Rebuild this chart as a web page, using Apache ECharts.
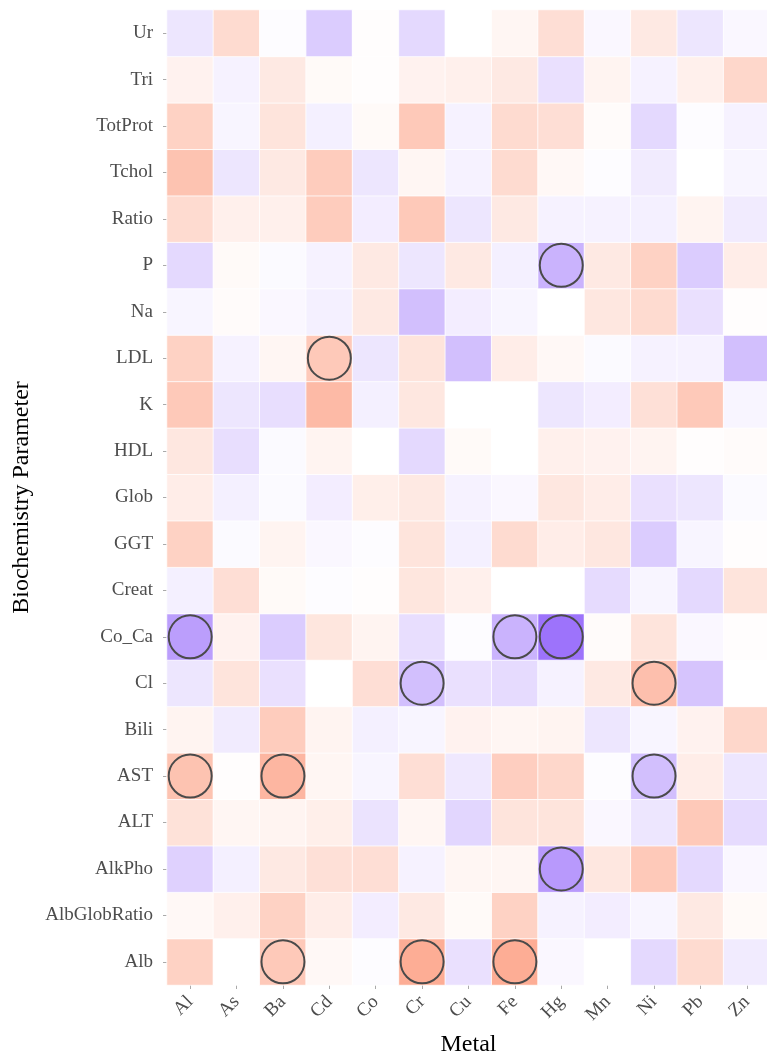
<!DOCTYPE html>
<html>
<head>
<meta charset="utf-8">
<script src="https://cdn.jsdelivr.net/npm/echarts@6/dist/echarts.min.js"></script>
<style>
  html, body { margin: 0; padding: 0; background: #fff; }
  #chart { width: 767px; height: 1057px; }
</style>
</head>
<body>
<div id="chart"></div>
<script>
  // metals on x, parameters on y (bottom -> top)
  const metals = ['Al', 'As', 'Ba', 'Cd', 'Co', 'Cr', 'Cu', 'Fe', 'Hg', 'Mn', 'Ni', 'Pb', 'Zn'];
  const params = ['Alb', 'AlbGlobRatio', 'AlkPho', 'ALT', 'AST', 'Bili', 'Cl', 'Co_Ca', 'Creat', 'GGT',
    'Glob', 'HDL', 'K', 'LDL', 'Na', 'P', 'Ratio', 'Tchol', 'TotProt', 'Tri', 'Ur'];

  // one row per parameter, same order as metals
  const Alb          = [0.25, 0.00, 0.30, 0.04, -0.01, 0.45, -0.12, 0.45, -0.03, 0.00, -0.15, 0.20, -0.08];
  const AlbGlobRatio = [0.04, 0.08, 0.25, 0.10, -0.07, 0.12, 0.03, 0.25, -0.05, -0.07, -0.04, 0.12, 0.03];
  const AlkPho       = [-0.18, -0.06, 0.12, 0.17, 0.18, -0.05, 0.05, 0.05, -0.40, 0.13, 0.30, -0.15, -0.03];
  const ALT          = [0.16, 0.05, 0.06, 0.09, -0.11, 0.05, -0.16, 0.15, 0.15, -0.03, -0.10, 0.30, -0.14];
  const AST          = [0.33, 0.01, 0.40, 0.05, -0.04, 0.18, -0.09, 0.27, 0.22, -0.01, -0.25, 0.10, -0.10];
  const Bili         = [0.06, -0.08, 0.28, 0.06, -0.06, -0.04, 0.07, 0.05, 0.06, -0.10, -0.04, 0.07, 0.22];
  const Cl           = [-0.10, 0.15, -0.12, 0.00, 0.18, -0.25, -0.12, -0.14, -0.05, 0.12, 0.35, -0.23, 0.00];
  const Co_Ca        = [-0.38, 0.07, -0.20, 0.14, 0.06, -0.13, -0.01, -0.30, -0.55, 0.02, 0.15, -0.03, 0.01];
  const Creat        = [-0.06, 0.18, 0.03, -0.01, 0.01, 0.14, 0.08, 0.00, 0.00, -0.14, -0.04, -0.15, 0.15];
  const GGT          = [0.25, -0.02, 0.06, -0.03, -0.01, 0.15, -0.06, 0.20, 0.10, 0.13, -0.20, -0.04, 0.01];
  const Glob         = [0.10, -0.06, -0.02, -0.07, 0.09, 0.12, -0.05, -0.03, 0.13, 0.10, -0.12, -0.10, -0.02];
  const HDL          = [0.13, -0.13, -0.02, 0.06, 0.00, -0.15, 0.03, 0.00, 0.08, 0.07, 0.06, 0.01, 0.02];
  const K            = [0.30, -0.10, -0.13, 0.38, -0.06, 0.13, 0.00, 0.00, -0.10, -0.07, 0.17, 0.30, -0.04];
  const LDL          = [0.25, -0.05, 0.05, 0.30, -0.10, 0.15, -0.25, 0.10, 0.04, -0.02, -0.05, -0.05, -0.25];
  const Na           = [-0.04, 0.02, -0.03, -0.06, 0.12, -0.25, -0.07, -0.04, 0.00, 0.13, 0.20, -0.12, 0.01];
  const P            = [-0.15, 0.03, -0.02, -0.05, 0.12, -0.10, 0.12, -0.06, -0.30, 0.12, 0.25, -0.20, 0.10];
  const Ratio        = [0.20, 0.08, 0.08, 0.28, -0.07, 0.30, -0.10, 0.12, -0.05, -0.05, -0.06, 0.06, -0.08];
  const Tchol        = [0.33, -0.10, 0.12, 0.28, -0.10, 0.05, -0.05, 0.20, 0.04, -0.01, -0.08, 0.00, -0.04];
  const TotProt      = [0.25, -0.04, 0.15, -0.06, 0.03, 0.30, -0.05, 0.20, 0.18, 0.02, -0.15, -0.01, -0.05];
  const Tri          = [0.07, -0.05, 0.12, 0.03, 0.01, 0.07, 0.08, 0.12, -0.12, 0.06, -0.05, 0.08, 0.22];
  const Ur           = [-0.10, 0.20, -0.01, -0.20, 0.01, -0.15, 0.00, 0.05, 0.18, -0.03, 0.12, -0.10, -0.03];

  const rows = [Alb, AlbGlobRatio, AlkPho, ALT, AST, Bili, Cl, Co_Ca, Creat, GGT,
    Glob, HDL, K, LDL, Na, P, Ratio, Tchol, TotProt, Tri, Ur];

  // significant cells [metal, parameter]
  const signif = [
    ['Hg', 'P'], ['Cd', 'LDL'], ['Al', 'Co_Ca'], ['Fe', 'Co_Ca'], ['Hg', 'Co_Ca'],
    ['Cr', 'Cl'], ['Ni', 'Cl'], ['Al', 'AST'], ['Ba', 'AST'], ['Ni', 'AST'],
    ['Hg', 'AlkPho'], ['Ba', 'Alb'], ['Cr', 'Alb'], ['Fe', 'Alb']
  ];

  const cells = [];
  rows.forEach((r, j) => r.forEach((v, i) => cells.push([i, j, v])));
  const dots = signif.map(s => {
    const i = metals.indexOf(s[0]), j = params.indexOf(s[1]);
    return [i, j, rows[j][i]];
  });

  const serif = '"Liberation Serif", "DejaVu Serif", serif';
  const chart = echarts.init(document.getElementById('chart'));
  chart.setOption({
    animation: false,
    grid: { left: 167, top: 10, width: 603, height: 975, outerBoundsMode: 'none', containLabel: false },
    xAxis: {
      type: 'category',
      data: metals,
      name: 'Metal',
      nameLocation: 'middle',
      nameGap: 48,
      nameTextStyle: { fontFamily: serif, fontSize: 24, color: '#000' },
      axisLine: { show: false },
      axisTick: { show: true, alignWithLabel: true, length: 4, lineStyle: { color: '#aaa' } },
      axisLabel: { rotate: 45, margin: 14, fontFamily: serif, fontSize: 19, color: '#4d4d4d' },
      splitLine: { show: false }
    },
    yAxis: {
      type: 'category',
      data: params,
      name: 'Biochemistry Parameter',
      nameLocation: 'middle',
      nameGap: 133,
      nameTextStyle: { fontFamily: serif, fontSize: 24, color: '#000' },
      axisLine: { show: false },
      axisTick: { show: true, alignWithLabel: true, length: 4, lineStyle: { color: '#aaa' } },
      axisLabel: { margin: 14, fontFamily: serif, fontSize: 19, color: '#4d4d4d' },
      splitLine: { show: false }
    },
    visualMap: {
      show: false,
      type: 'continuous',
      min: -0.6,
      max: 0.6,
      dimension: 2,
      seriesIndex: [0, 1],
      inRange: { color: ['#9466fb', '#ffffff', '#fc9272'] }
    },
    series: [
      {
        type: 'heatmap',
        data: cells,
        itemStyle: { borderColor: '#ffffff', borderWidth: 0.8 }
      },
      {
        type: 'scatter',
        data: dots,
        symbol: 'circle',
        symbolSize: 43,
        itemStyle: { borderColor: '#4a4a4a', borderWidth: 2, opacity: 1 }
      }
    ]
  });
</script>
</body>
</html>
